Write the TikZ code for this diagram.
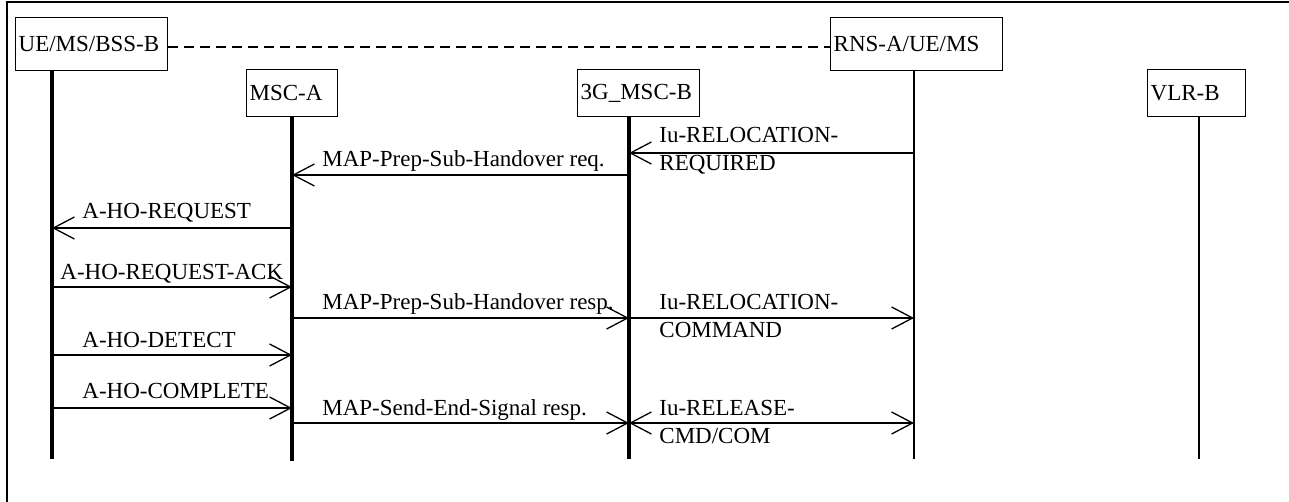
\documentclass[tikz,border=0pt]{standalone}
\usepackage{fontspec}
\setmainfont{Liberation Serif}
\usetikzlibrary{arrows.meta}
\tikzset{mytip/.tip={Straight Barb[length=10.5pt,width=11pt]}}
\begin{document}
\begin{tikzpicture} [x=0.5pt,y=-0.5pt,font=\fontsize{11.5}{14}\selectfont,
  mybox/.style={rectangle, draw, line width=0.65pt, anchor=north west, inner xsep=1.5pt, inner ysep=0pt, align=left},
  mylife/.style={line width=1.35pt},
  mymsg/.style={line width=0.65pt, -mytip},
  mytxt/.style={anchor=base west, inner sep=0pt, align=left}]
  \useasboundingbox (0,0) rectangle (1289,502);
  \draw[line width=0.65pt] (7,502) -- (7,2) -- (1289,2);

  \node[mybox, text width=73pt, minimum height=26.5pt] (ue) at (15,17) {UE/MS/BSS-B};
  \node[mybox, text width=42.5pt, minimum height=23.5pt] (msca) at (246,69) {MSC-A};
  \node[mybox, text width=58pt, minimum height=23.5pt] (gmsc) at (577,69) {3G\_MSC-B};
  \node[mybox, text width=83pt, minimum height=26.5pt] (rns) at (830,17) {RNS-A/UE/MS};
  \node[mybox, text width=46pt, minimum height=23.5pt] (vlr) at (1147,69) {VLR-B};

  \coordinate (ueL) at (52,459);
  \coordinate (mscaL) at (292,461);
  \coordinate (gmscL) at (629,459);
  \coordinate (rnsL) at (914,459);
  \coordinate (vlrL) at (1199,459);

  \draw[line width=0.6pt, dash pattern=on 5pt off 3pt] (ue.east |- 0,47) -- (rns.west |- 0,47);

    \draw[mylife, line width=2pt] (ue.south -| ueL) -- (ueL);
    \draw[mylife, line width=2pt] (msca.south -| mscaL) -- (mscaL);
    \draw[mylife, line width=1.6pt] (gmsc.south -| gmscL) -- (gmscL);
    \draw[mylife] (rns.south -| rnsL) -- (rnsL);
    \draw[mylife] (vlr.south -| vlrL) -- (vlrL);

    \draw[mymsg] (rnsL |- 0,153) -- (gmscL |- 0,153);
    \draw[mymsg] (gmscL |- 0,175) -- (mscaL |- 0,175);
    \draw[mymsg] (mscaL |- 0,228) -- (ueL |- 0,228);
    \draw[mymsg] (ueL |- 0,287) -- (mscaL |- 0,287);
    \draw[mymsg] (mscaL |- 0,318) -- (gmscL |- 0,318);
    \draw[mymsg] (gmscL |- 0,318) -- (rnsL |- 0,318);
    \draw[mymsg] (ueL |- 0,355) -- (mscaL |- 0,355);
    \draw[mymsg] (ueL |- 0,408) -- (mscaL |- 0,408);
    \draw[mymsg] (mscaL |- 0,423) -- (gmscL |- 0,423);
    \draw[mymsg, mytip-mytip] (gmscL |- 0,423) -- (rnsL |- 0,423);

  \node[mytxt] (t1) at (659,171) {Iu-RELOCATION-\\REQUIRED};
  \node[mytxt] (t2) at (322,167) {MAP-Prep-Sub-Handover req.};
  \node[mytxt] (t3) at (82,219) {A-HO-REQUEST};
  \node[mytxt] (t4) at (60,279) {A-HO-REQUEST-ACK};
  \node[mytxt] (t5) at (322,309) {MAP-Prep-Sub-Handover resp.};
  \node[mytxt] (t6) at (659,337) {Iu-RELOCATION-\\COMMAND};
  \node[mytxt] (t7) at (82,347) {A-HO-DETECT};
  \node[mytxt] (t8) at (82,398) {A-HO-COMPLETE};
  \node[mytxt] (t9) at (322,415) {MAP-Send-End-Signal resp.};
  \node[mytxt] (t10) at (659,443) {Iu-RELEASE-\\CMD/COM};

\end{tikzpicture}
\end{document}
